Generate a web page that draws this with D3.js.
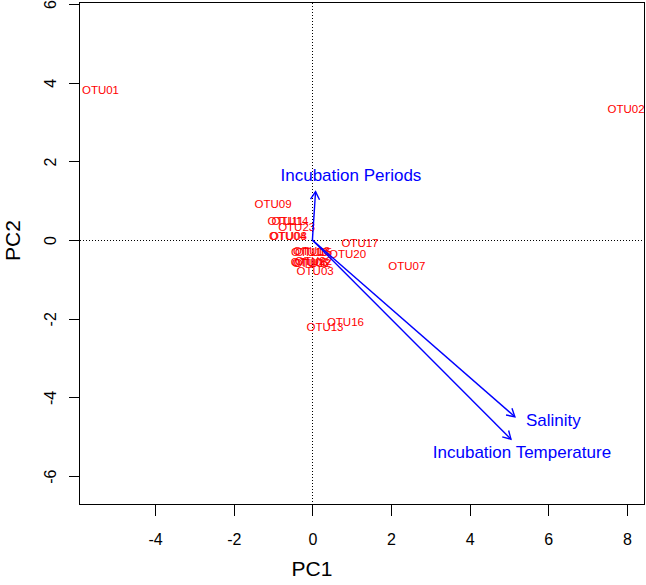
<!DOCTYPE html>
<html>
<head>
<meta charset="utf-8">
<script src="https://cdn.jsdelivr.net/npm/d3@7"></script>
<style>
  html, body { margin: 0; padding: 0; background: #ffffff; }
  svg { display: block; }
  text { font-family: "Liberation Sans", Arial, Helvetica, sans-serif; }
</style>
</head>
<body>
<svg id="chart" width="646" height="585"></svg>
<script>
// ---- Data ----
const otuNames = ["OTU01","OTU02","OTU09","OTU11","OTU14","OTU23","OTU04","OTU08",
                  "OTU17","OTU20","OTU07","OTU10","OTU15","OTU18","OTU05","OTU06",
                  "OTU12","OTU22","OTU03","OTU16","OTU13"];
const otuPC1 = [-5.39, 7.98, -1.00, -0.68, -0.57, -0.40, -0.63, -0.61,
                 1.21, 0.895, 2.40, -0.07, 0.03, -0.02, -0.08, -0.05,
                 0.00, 0.03, 0.07, 0.84, 0.32];
const otuPC2 = [3.83, 3.33, 0.93, 0.48, 0.48, 0.34, 0.10, 0.11,
                -0.08, -0.36, -0.66, -0.29, -0.31, -0.28, -0.55, -0.57,
                -0.58, -0.53, -0.78, -2.08, -2.20];

const varNames = ["Incubation Periods", "Salinity", "Incubation Temperature"];
const varPC1 = [0.08, 5.15, 5.05];      // arrow tips
const varPC2 = [1.23, -4.49, -5.06];
const varLabelPC1 = [0.98, 6.13, 5.33]; // label anchors
const varLabelPC2 = [1.65, -4.57, -5.39];

const xTicks = [-4, -2, 0, 2, 4, 6, 8];
const yTicks = [-6, -4, -2, 0, 2, 4, 6];
const xDomain = [-5.924, 8.447];
const yDomain = [-6.72, 6.04];

// ---- Layout ----
const plotLeft = 79.5, plotRight = 644.5, plotTop = 2.5, plotBottom = 504.5;
const svg = d3.select("#chart");

const x = d3.scaleLinear().domain(xDomain).range([plotLeft, plotRight]);
const y = d3.scaleLinear().domain(yDomain).range([plotBottom, plotTop]);
const crisp = v => Math.round(v - 0.5) + 0.5;

// reference lines (dotted)
svg.append("line")
  .attr("x1", plotLeft).attr("x2", plotRight)
  .attr("y1", crisp(y(0))).attr("y2", crisp(y(0)))
  .attr("stroke", "#000").attr("stroke-width", 1).attr("stroke-dasharray", "1,2")
  .attr("shape-rendering", "crispEdges");
svg.append("line")
  .attr("x1", crisp(x(0))).attr("x2", crisp(x(0)))
  .attr("y1", plotTop).attr("y2", plotBottom)
  .attr("stroke", "#000").attr("stroke-width", 1).attr("stroke-dasharray", "1,2")
  .attr("shape-rendering", "crispEdges");

// OTU labels
svg.append("g").selectAll("text")
  .data(otuNames)
  .join("text")
  .attr("x", (d, i) => x(otuPC1[i]))
  .attr("y", (d, i) => y(otuPC2[i]))
  .attr("dy", "0.36em")
  .attr("text-anchor", "middle")
  .attr("font-size", "11.5px")
  .attr("fill", "#ff0000")
  .text(d => d);

// arrows
const arrowG = svg.append("g");
const headLen = 9, headAng = Math.PI / 6;
varNames.forEach((name, i) => {
  const x0 = x(0), y0 = y(0), x1 = x(varPC1[i]), y1 = y(varPC2[i]);
  const ang = Math.atan2(y1 - y0, x1 - x0);
  arrowG.append("line")
    .attr("x1", x0).attr("y1", y0).attr("x2", x1).attr("y2", y1)
    .attr("stroke", "#0000ff").attr("stroke-width", 1.4);
  const p = d3.path();
  p.moveTo(x1 - headLen * Math.cos(ang - headAng), y1 - headLen * Math.sin(ang - headAng));
  p.lineTo(x1, y1);
  p.lineTo(x1 - headLen * Math.cos(ang + headAng), y1 - headLen * Math.sin(ang + headAng));
  arrowG.append("path").attr("d", p.toString())
    .attr("fill", "none").attr("stroke", "#0000ff").attr("stroke-width", 1.4);
  arrowG.append("text")
    .attr("x", x(varLabelPC1[i])).attr("y", y(varLabelPC2[i]))
    .attr("dy", "0.36em").attr("text-anchor", "middle")
    .attr("font-size", "17px").attr("fill", "#0000ff")
    .text(name);
});

// plot box
svg.append("rect")
  .attr("x", plotLeft).attr("y", plotTop)
  .attr("width", plotRight - plotLeft).attr("height", plotBottom - plotTop)
  .attr("fill", "none").attr("stroke", "#000").attr("stroke-width", 1)
  .attr("shape-rendering", "crispEdges");

// x axis
const xAxis = d3.axisBottom(x).tickValues(xTicks).tickSize(11).tickPadding(0)
  .tickFormat(d3.format("d"));
const gx = svg.append("g").attr("transform", `translate(0,${plotBottom})`).call(xAxis);
gx.select(".domain").remove();
gx.selectAll(".tick line").attr("stroke", "#000").attr("stroke-width", 1)
  .attr("shape-rendering", "crispEdges");
gx.selectAll(".tick text").attr("y", 40).attr("dy", null)
  .attr("font-size", "16px").attr("font-family", "Liberation Sans, Arial, sans-serif")
  .attr("fill", "#000").text(d => d < 0 ? "-" + Math.abs(d) : String(d));

// y axis
const yAxis = d3.axisLeft(y).tickValues(yTicks).tickSize(11).tickFormat(d3.format("d"));
const gy = svg.append("g").attr("transform", `translate(${plotLeft},0)`).call(yAxis);
gy.select(".domain").remove();
gy.selectAll(".tick line").attr("stroke", "#000").attr("stroke-width", 1)
  .attr("shape-rendering", "crispEdges");
gy.selectAll(".tick text").remove();
gy.selectAll(".tick").append("text")
  .attr("transform", "translate(-24,0) rotate(-90)")
  .attr("text-anchor", "middle")
  .attr("font-size", "16px").attr("font-family", "Liberation Sans, Arial, sans-serif")
  .attr("fill", "#000")
  .text(d => d < 0 ? "-" + Math.abs(d) : String(d));

// axis titles
svg.append("text")
  .attr("x", (plotLeft + plotRight) / 2 - 50).attr("y", 576)
  .attr("text-anchor", "middle").attr("font-size", "21px").attr("fill", "#000")
  .text("PC1");
svg.append("text")
  .attr("transform", `translate(20,${(plotTop + plotBottom) / 2 - 13}) rotate(-90)`)
  .attr("text-anchor", "middle").attr("font-size", "21px").attr("fill", "#000")
  .text("PC2");
</script>
</body>
</html>
